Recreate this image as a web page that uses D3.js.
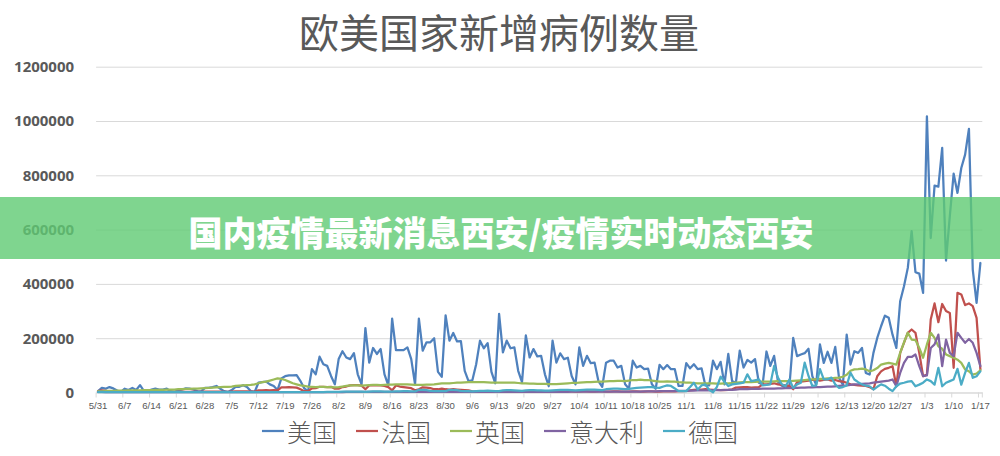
<!DOCTYPE html>
<html><head><meta charset="utf-8">
<script src="https://cdn.jsdelivr.net/npm/d3@7/dist/d3.min.js"></script>
<style>html,body{margin:0;padding:0;background:#fff;}svg{display:block;}</style>
</head><body>
<svg id="chart" width="1000" height="456"></svg>
<script>
// ---------- data (new cases, thousands) ----------
const titleText = "欧美国家新增病例数量";
const bannerText = "国内疫情最新消息西安/疫情实时动态西安";
const seriesNames = ["美国", "法国", "英国", "意大利", "德国"];
const seriesColors = ["#4f81bd", "#c0504d", "#9bbb59", "#8064a2", "#4bacc6"];
const firstDay = "2020-05-31";
const lastDay = "2021-01-17";
const xTickLabels = ["5/31","6/7","6/14","6/21","6/28","7/5","7/12","7/19","7/26","8/2","8/9","8/16","8/23","8/30","9/6","9/13","9/20","9/27","10/4","10/11","10/18","10/25","11/1","11/8","11/15","11/22","11/29","12/6","12/13","12/20","12/27","1/3","1/10","1/17"];
const yTickValues = [0, 200, 400, 600, 800, 1000, 1200];
const yTickLabels = ["0","200000","400000","600000","800000","1000000","1200000"];

const usK = [
5,17,14,20,15,7,2,14,9,17,
9,27,6,2,11,14,11,11,14,5,
2,9,11,15,14,11,5,4,17,17,
20,24,14,5,2,9,21,21,27,20,
5,2,36,38,40,30,24,9,52,60,
63,63,64,42,15,5,86,67,132,104,
98,61,30,123,152,129,123,145,67,30,
237,110,164,142,160,67,26,272,156,156,
156,166,123,30,272,154,185,185,200,76,
58,284,191,219,188,189,80,42,45,104,
191,163,182,76,34,290,148,191,163,166,
80,38,210,129,160,133,135,67,23,191,
110,144,123,128,61,30,166,98,135,108,
110,42,21,110,117,117,92,98,30,14,
117,92,98,86,88,30,14,102,86,101,
86,86,24,24,108,89,104,86,89,26,
26,117,86,113,30,142,42,36,154,92,
120,110,123,36,30,151,98,135,40,25,
20,22,201,134,140,145,161,60,29,177,
109,150,109,168,54,29,213,103,152,146,
164,72,66,146,201,244,283,275,213,164,
336,391,459,594,443,438,367,1017,569,762,
758,901,486,650,806,735,827,876,971,453,
330,477];

const frK = [
5,8,6,4,3,2,2,2,3,2,
2,3,2,2,2,2,3,2,2,2,
2,2,3,2,2,3,2,2,3,3,
3,3,3,2,2,3,4,4,4,4,
3,3,8,8,9,8,9,8,19,19,
20,19,18,12,5,5,15,16,21,21,
20,21,14,14,20,22,26,27,27,25,
12,26,27,26,26,24,20,8,26,22,
20,18,16,8,12,19,18,16,12,12,
14,12,11,12,11,10,9,8,4,3,
3,3,4,3,3,3,4,3,3,3,
4,3,3,4,3,3,3,4,3,3,
4,4,3,4,4,3,3,4,4,3,
3,4,4,3,3,4,4,3,3,3,
4,4,3,3,4,4,3,3,4,4,
4,4,5,5,6,8,10,11,11,12,
11,10,10,9,9,10,12,18,19,20,
20,18,19,20,30,30,32,34,30,28,
26,24,12,38,40,42,44,46,48,44,
46,48,44,46,42,40,36,30,28,26,
25,24,20,12,60,78,87,91,97,23,
146,183,220,232,220,146,60,66,269,328,
259,326,300,293,91,367,361,322,328,318,
275,85];

const ukK = [
5,5,6,6,6,7,7,7,8,8,
8,8,9,9,9,10,10,10,11,11,
11,12,12,13,13,14,14,15,16,17,
18,19,20,21,21,22,24,25,26,27,
28,30,34,38,40,44,48,52,50,46,
40,34,30,26,24,22,21,20,21,21,
20,20,19,20,22,24,26,26,26,25,
26,27,28,28,27,28,29,29,30,30,
30,30,29,28,28,28,29,29,30,32,
34,34,34,35,36,36,37,38,38,38,
38,38,37,36,36,36,36,36,36,36,
35,34,34,33,33,32,32,32,31,31,
31,32,33,34,35,35,36,37,38,38,
39,40,40,41,42,42,43,43,42,44,
46,46,47,46,46,44,42,40,40,41,
40,40,38,37,36,36,35,34,34,34,
34,34,33,33,34,34,35,36,37,38,
38,38,39,40,40,40,40,41,42,42,
42,42,43,44,45,46,47,48,48,50,
50,52,52,54,55,58,65,80,85,86,
88,85,78,82,90,103,106,109,106,103,
146,185,220,195,193,164,128,177,220,201,
170,161,140,134,128,121,109,85,78,66,
70,82];

const itK = [
2,2,1,1,1,1,1,1,1,1,
1,1,1,1,1,1,1,1,1,1,
1,1,1,1,1,1,1,1,1,1,
1,1,1,1,1,1,1,1,1,1,
1,1,1,1,1,1,1,1,1,1,
1,1,1,1,1,1,1,1,1,1,
1,1,1,1,1,2,2,2,2,2,
2,2,2,2,2,2,2,2,2,2,
2,2,2,2,2,2,2,2,2,2,
2,2,2,2,2,2,2,2,2,2,
2,2,2,2,2,2,2,2,2,2,
2,2,2,2,2,2,2,2,2,2,
2,2,2,2,3,3,3,3,3,3,
3,3,3,3,3,3,3,3,3,3,
3,3,3,4,4,4,4,5,5,5,
5,5,6,6,6,7,7,8,8,8,
8,9,9,9,10,10,10,11,12,12,
12,13,13,13,14,14,14,14,15,15,
16,16,17,17,18,18,19,19,20,20,
21,22,22,23,24,25,26,28,30,30,
32,33,34,36,38,40,42,44,48,23,
72,109,131,131,140,97,60,63,164,177,
213,97,195,146,134,220,201,183,197,183,
146,97];

const deK = [
1,1,1,1,1,1,1,1,1,1,
1,1,1,1,1,1,1,1,1,1,
1,1,1,1,1,1,1,1,1,1,
1,1,1,1,1,1,1,1,1,1,
1,1,1,1,1,1,1,1,1,1,
1,1,1,1,1,1,1,1,1,1,
2,2,2,2,3,3,3,3,3,3,
2,3,4,4,4,3,3,3,4,4,
5,5,4,4,10,10,9,6,5,5,
5,5,10,10,9,6,5,5,4,5,
6,6,7,6,5,5,8,9,9,8,
7,6,8,9,9,8,8,7,7,8,
9,10,10,10,9,8,9,10,11,11,
11,10,9,12,13,14,14,13,12,13,
15,17,18,19,20,20,18,17,22,26,
24,15,5,5,5,20,36,11,26,30,
10,1,20,58,40,24,30,32,34,36,
67,42,45,48,26,28,30,98,55,30,
23,48,17,30,36,110,61,24,26,86,
48,48,55,30,17,20,26,73,48,38,
30,25,23,11,21,30,25,14,5,23,
33,36,40,42,23,29,36,48,42,29,
91,23,36,42,48,87,29,72,109,54,
60,78];

const seriesValues = [usK, frK, ukK, itK, deK];

// ---------- layout ----------
const W = 1000, H = 456;
const plot = {left: 96.1, right: 982.3, top: 66.7, bottom: 392.5};
const textGray = "#595959";
const gridGray = "#d9d9d9";

const svg = d3.select("#chart");
svg.append("rect").attr("width", W).attr("height", H).attr("fill", "#fff");

const parse = d3.timeParse("%Y-%m-%d");
const days = d3.timeDay.range(parse(firstDay), d3.timeDay.offset(parse(lastDay), 1));
const fmt = d3.timeFormat("%-m/%-d");
const cats = days.map(fmt);

const xBand = d3.scaleBand().domain(cats).range([plot.left, plot.right]).paddingInner(0).paddingOuter(0);
const xc = c => xBand(c) + xBand.bandwidth() / 2;
const y = d3.scaleLinear().domain([0, 1200]).range([plot.bottom, plot.top]);

// title
svg.append("text").attr("x", 499).attr("y", 31)
  .attr("text-anchor", "middle").attr("dominant-baseline", "central")
  .attr("font-family", "'Noto Sans CJK SC', sans-serif").attr("font-size", 40)
  .attr("fill", textGray).text(titleText);

// gridlines + y labels
const yAxis = d3.axisLeft(y).tickValues(yTickValues).tickSize(-(plot.right - plot.left)).tickPadding(22)
  .tickFormat((d, i) => yTickLabels[i]);
const gy = svg.append("g").attr("transform", `translate(${plot.left},0)`).call(yAxis);
gy.select(".domain").remove();
gy.selectAll(".tick line").attr("stroke", gridGray).attr("stroke-width", 1);
gy.selectAll(".tick text").attr("font-family", "'Open Sans', sans-serif").attr("font-weight", 700)
  .attr("font-size", 15).attr("fill", textGray);

// x axis
const xAxis = d3.axisBottom(xBand).tickValues(xTickLabels).tickSize(0).tickPadding(10);
const gx = svg.append("g").attr("transform", `translate(0,${plot.bottom})`).call(xAxis);
gx.select(".domain").attr("stroke", gridGray).attr("stroke-width", 1);
gx.selectAll(".tick text").attr("font-family", "'Liberation Sans', Arial, sans-serif").attr("font-size", 9.6)
  .attr("fill", textGray);
const tickCats = cats.filter((c, i) => i % 7 === 0);
gx.selectAll("line.bt").data(tickCats).enter().append("line").attr("class", "bt")
  .attr("x1", c => xBand(c)).attr("x2", c => xBand(c)).attr("y1", 0).attr("y2", 5)
  .attr("stroke", gridGray);
gx.append("line").attr("x1", plot.right).attr("x2", plot.right).attr("y1", 0).attr("y2", 5).attr("stroke", gridGray);

// lines
const line = d3.line().x((d, i) => xc(cats[i])).y(d => y(d)).curve(d3.curveLinear);
seriesValues.forEach((vals, k) => {
  svg.append("path").datum(vals).attr("d", line)
    .attr("fill", "none").attr("stroke", seriesColors[k]).attr("stroke-width", 2.25)
    .attr("stroke-linejoin", "round").attr("stroke-linecap", "round");
});

// legend
const lg = svg.append("g");
let lx = 0;
seriesNames.forEach((name, k) => {
  const g = lg.append("g");
  g.append("line").attr("x1", 0).attr("x2", 22).attr("y1", 0).attr("y2", 0)
    .attr("stroke", seriesColors[k]).attr("stroke-width", 2.25);
  const t = g.append("text").attr("x", 25).attr("y", 0).attr("dominant-baseline", "central")
    .attr("font-family", "'Noto Sans CJK SC', sans-serif").attr("font-weight", 300).attr("font-size", 25)
    .attr("fill", textGray).text(name);
  const w = 25 + t.node().getComputedTextLength();
  g.attr("transform", `translate(${lx},0)`);
  lx += w + 19;
});
const totalW = lx - 19;
lg.attr("transform", `translate(${500 - totalW / 2},431)`);

// banner overlay
svg.append("rect").attr("x", 0).attr("y", 197).attr("width", W).attr("height", 62)
  .attr("fill", "rgb(95,203,115)").attr("fill-opacity", 0.8);
svg.append("text").attr("x", 501).attr("y", 231)
  .attr("text-anchor", "middle").attr("dominant-baseline", "central")
  .attr("font-family", "'Noto Sans CJK SC', sans-serif").attr("font-weight", 900).attr("font-size", 34)
  .attr("fill", "#fff").text(bannerText);
</script>
</body></html>
